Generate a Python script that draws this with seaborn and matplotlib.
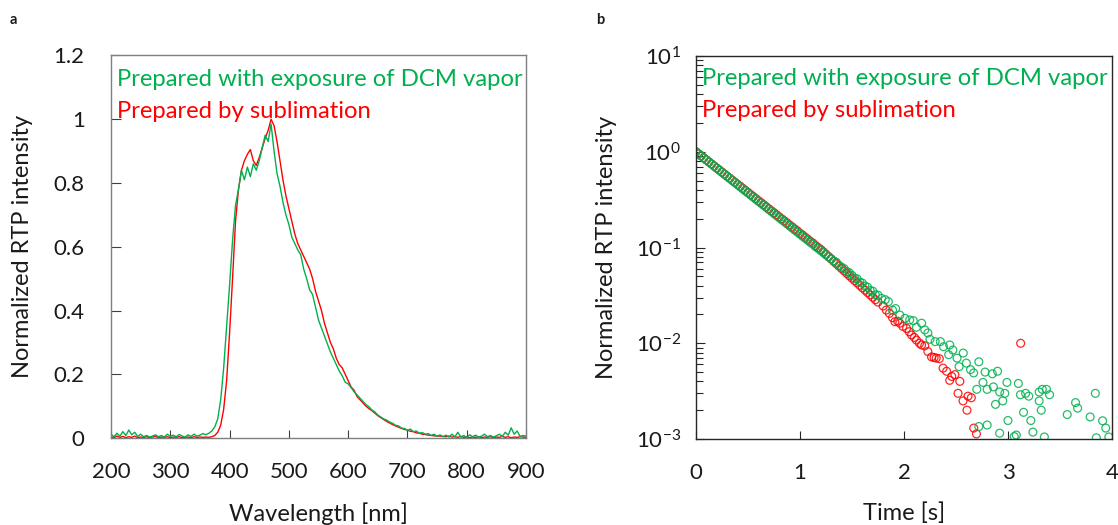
import numpy as np
import pandas as pd
import matplotlib
matplotlib.use("Agg")
import matplotlib.pyplot as plt
import seaborn as sns

# ---------------- data ----------------
wavelength = np.arange(200, 905, 5)

dcm_vapor = [
    0.012, 0.004, 0.015, 0.006, 0.020, 0.008, 0.025, 0.010, 0.018, 0.005,  # 200
    0.012, 0.004, 0.008, 0.003, 0.006, 0.010, 0.004, 0.008, 0.003, 0.012,  # 250
    0.005, 0.009, 0.004, 0.011, 0.006, 0.003, 0.010, 0.005, 0.012, 0.006,  # 300
    0.009, 0.014, 0.010, 0.015, 0.022, 0.035, 0.060, 0.120, 0.220, 0.350,  # 350
    0.480, 0.620, 0.730, 0.780, 0.840, 0.810, 0.850, 0.820, 0.860, 0.840,  # 400
    0.870, 0.910, 0.950, 0.930, 0.985, 0.900, 0.830, 0.790, 0.740, 0.700,  # 450
    0.670, 0.630, 0.610, 0.590, 0.575, 0.530, 0.500, 0.465, 0.450, 0.410,  # 500
    0.370, 0.345, 0.320, 0.295, 0.270, 0.250, 0.230, 0.210, 0.195, 0.175,  # 550
    0.170, 0.158, 0.145, 0.135, 0.125, 0.115, 0.105, 0.098, 0.088, 0.082,  # 600
    0.072, 0.066, 0.060, 0.056, 0.050, 0.046, 0.040, 0.038, 0.031, 0.030,  # 650
    0.024, 0.028, 0.020, 0.022, 0.015, 0.017, 0.012, 0.014, 0.008, 0.012,  # 700
    0.005, 0.010, 0.004, 0.009, 0.003, 0.012, 0.004, 0.018, 0.003, 0.008,  # 750
    0.002, 0.010, 0.004, 0.009, 0.003, 0.006, 0.012, 0.004, 0.008, 0.003,  # 800
    0.007, 0.012, 0.005, 0.018, 0.009, 0.032, 0.012, 0.022, 0.005, 0.008,  # 850
    0.006,                                                                 # 900
]

sublimation = [
    0.004, 0.001, 0.006, 0.002, 0.005, 0.001, 0.004, 0.002, 0.006, 0.001,  # 200
    0.003, 0.002, 0.004, 0.001, 0.003, 0.005, 0.001, 0.003, 0.002, 0.004,  # 250
    0.001, 0.003, 0.002, 0.004, 0.001, 0.002, 0.003, 0.001, 0.004, 0.002,  # 300
    0.003, 0.002, 0.003, 0.002, 0.004, 0.008, 0.018, 0.040, 0.090, 0.180,  # 350
    0.330, 0.500, 0.680, 0.780, 0.840, 0.870, 0.890, 0.905, 0.870, 0.855,  # 400
    0.880, 0.910, 0.940, 0.965, 1.000, 0.980, 0.930, 0.870, 0.810, 0.760,  # 450
    0.720, 0.680, 0.640, 0.610, 0.590, 0.570, 0.550, 0.530, 0.500, 0.460,  # 500
    0.430, 0.400, 0.360, 0.330, 0.300, 0.280, 0.250, 0.230, 0.220, 0.200,  # 550
    0.180, 0.160, 0.150, 0.130, 0.120, 0.110, 0.100, 0.092, 0.086, 0.078,  # 600
    0.070, 0.064, 0.058, 0.052, 0.047, 0.042, 0.038, 0.034, 0.030, 0.027,  # 650
    0.025, 0.021, 0.020, 0.016, 0.015, 0.012, 0.011, 0.009, 0.008, 0.007,  # 700
    0.006, 0.006, 0.005, 0.004, 0.006, 0.003, 0.004, 0.002, 0.005, 0.002,  # 750
    0.004, 0.001, 0.003, 0.002, 0.004, 0.001, 0.003, 0.002, 0.004, 0.001,  # 800
    0.003, 0.002, 0.005, 0.002, 0.004, 0.001, 0.003, 0.002, 0.004, 0.003,  # 850
    0.002,                                                                 # 900
]

decay_time_dcm = [
    0.000, 0.025, 0.050, 0.075, 0.100, 0.125, 0.150, 0.175, 0.200, 0.225,
    0.250, 0.275, 0.300, 0.325, 0.350, 0.375, 0.400, 0.425, 0.450, 0.475,
    0.500, 0.525, 0.550, 0.575, 0.600, 0.625, 0.650, 0.675, 0.700, 0.725,
    0.750, 0.775, 0.800, 0.825, 0.850, 0.875, 0.900, 0.925, 0.950, 0.975,
    1.000, 1.025, 1.050, 1.075, 1.100, 1.125, 1.150, 1.175, 1.200, 1.225,
    1.250, 1.275, 1.300, 1.325, 1.350, 1.375, 1.400, 1.425, 1.450, 1.475,
    1.500, 1.525, 1.550, 1.575, 1.600, 1.625, 1.650, 1.675, 1.700, 1.725,
    1.750,
    1.785, 1.820, 1.850, 1.890, 1.920, 1.960, 2.010, 2.055, 2.090, 2.120,
    2.170, 2.200, 2.230, 2.250, 2.300, 2.350, 2.380, 2.430, 2.440, 2.470,
    2.510, 2.530, 2.570, 2.600, 2.640, 2.670, 2.700, 2.720, 2.720, 2.760,
    2.780, 2.800, 2.800, 2.850, 2.860, 2.880, 2.900, 2.920, 2.920, 2.950,
    2.970, 2.990, 3.000, 3.060, 3.080, 3.100, 3.120, 3.150, 3.170, 3.200,
    3.220, 3.240, 3.300, 3.300, 3.320, 3.330, 3.350, 3.370, 3.400, 3.570,
    3.650, 3.670, 3.790, 3.840, 3.850, 3.910, 3.940, 3.970,
]
decay_int_dcm = [
    1.000, 0.952, 0.906, 0.862, 0.820, 0.781, 0.743, 0.707, 0.673, 0.641,
    0.610, 0.580, 0.552, 0.526, 0.500, 0.476, 0.453, 0.431, 0.410, 0.390,
    0.372, 0.354, 0.337, 0.320, 0.305, 0.290, 0.276, 0.263, 0.250, 0.238,
    0.226, 0.215, 0.205, 0.195, 0.186, 0.177, 0.168, 0.160, 0.152, 0.145,
    0.138, 0.131, 0.125, 0.119, 0.113, 0.108, 0.102, 0.0975, 0.0928, 0.0883,
    0.0840, 0.0800, 0.0761, 0.0724, 0.0700, 0.0650, 0.0624, 0.0600, 0.0560, 0.0545,
    0.0512, 0.0480, 0.0470, 0.0436, 0.0425, 0.0395, 0.0385, 0.0355, 0.0350, 0.0320,
    0.0318,
    0.0294, 0.0285, 0.0272, 0.0222, 0.0230, 0.0197, 0.0182, 0.0175, 0.0172, 0.0147,
    0.0162, 0.0138, 0.0128, 0.0110, 0.0104, 0.0104, 0.0092, 0.0076, 0.0096, 0.0085,
    0.0070, 0.0057, 0.0079, 0.0062, 0.0053, 0.0049, 0.0033, 0.0064, 0.00135, 0.0039,
    0.0050, 0.0033, 0.0014, 0.0048, 0.0035, 0.0023, 0.0051, 0.0031, 0.00115, 0.0025,
    0.0030, 0.0039, 0.00156, 0.00106, 0.0011, 0.0038, 0.0029, 0.0019, 0.0030, 0.0028,
    0.00156, 0.00118, 0.0031, 0.0025, 0.0020, 0.0033, 0.00105, 0.0033, 0.0029, 0.0018,
    0.0024, 0.0021, 0.0017, 0.0030, 0.00103, 0.00155, 0.0013, 0.00105,
]

decay_time_sub = [
    0.000, 0.025, 0.050, 0.075, 0.100, 0.125, 0.150, 0.175, 0.200, 0.225,
    0.250, 0.275, 0.300, 0.325, 0.350, 0.375, 0.400, 0.425, 0.450, 0.475,
    0.500, 0.525, 0.550, 0.575, 0.600, 0.625, 0.650, 0.675, 0.700, 0.725,
    0.750, 0.775, 0.800, 0.825, 0.850, 0.875, 0.900, 0.925, 0.950, 0.975,
    1.000, 1.025, 1.050, 1.075, 1.100, 1.125, 1.150, 1.175, 1.200, 1.225,
    1.250, 1.275, 1.300, 1.325, 1.350, 1.375, 1.400, 1.425, 1.450, 1.475,
    1.500, 1.525, 1.550, 1.575, 1.600, 1.625, 1.650, 1.675, 1.700, 1.725,
    1.750,
    1.800, 1.830, 1.860, 1.890, 1.913, 1.940, 1.960, 1.990, 2.025, 2.050,
    2.073, 2.100, 2.120, 2.150, 2.169, 2.200, 2.230, 2.265, 2.290, 2.310,
    2.340, 2.376, 2.410, 2.440, 2.460, 2.490, 2.520, 2.537, 2.568, 2.606,
    2.616, 2.648, 2.671, 2.697, 3.122,
]
decay_int_sub = [
    1.000, 0.952, 0.907, 0.864, 0.822, 0.783, 0.746, 0.710, 0.676, 0.644,
    0.613, 0.584, 0.556, 0.530, 0.504, 0.480, 0.457, 0.436, 0.415, 0.395,
    0.376, 0.358, 0.341, 0.325, 0.309, 0.295, 0.281, 0.267, 0.254, 0.242,
    0.231, 0.220, 0.209, 0.199, 0.190, 0.181, 0.172, 0.164, 0.156, 0.149,
    0.141, 0.135, 0.128, 0.122, 0.116, 0.111, 0.105, 0.100, 0.0955, 0.0902,
    0.0851, 0.0804, 0.0759, 0.0716, 0.0676, 0.0639, 0.0603, 0.0569, 0.0537, 0.0507,
    0.0479, 0.0452, 0.0427, 0.0403, 0.0380, 0.0359, 0.0339, 0.0320, 0.0302, 0.0285,
    0.0269,
    0.0245, 0.0222, 0.0205, 0.0185, 0.0168, 0.0170, 0.0162, 0.0150, 0.0143, 0.0132,
    0.0122, 0.0115, 0.0108, 0.0100, 0.0096, 0.0094, 0.0082, 0.0072, 0.0071, 0.0070,
    0.0069, 0.0055, 0.0051, 0.0041, 0.0045, 0.0047, 0.0030, 0.0040, 0.0025, 0.0020,
    0.0028, 0.0027, 0.0013, 0.00113, 0.0100,
]

series_labels = ["Prepared with exposure of DCM vapor", "Prepared by sublimation"]
wl_ticks = [200, 300, 400, 500, 600, 700, 800, 900]
int_ticks = [0, 0.2, 0.4, 0.6, 0.8, 1.0, 1.2]
int_ticklabels = ["0", "0.2", "0.4", "0.6", "0.8", "1", "1.2"]
time_ticks = [0, 1, 2, 3, 4]
log_ticks = [1e-3, 1e-2, 1e-1, 1e0, 1e1]
log_ticklabels = ["$10^{-3}$", "$10^{-2}$", "$10^{-1}$", "$10^{0}$", "$10^{1}$"]

# ---------------- style ----------------
sns.set_style("ticks")
FONT = "Lato"
plt.rcParams["font.family"] = [FONT, "DejaVu Sans"]
plt.rcParams["mathtext.fontset"] = "custom"
plt.rcParams["mathtext.rm"] = FONT
plt.rcParams["mathtext.it"] = FONT + ":italic"
plt.rcParams["mathtext.bf"] = FONT + ":bold"

GREEN = "#00B050"
RED = "#FF0000"
TXT = "#1a1a1a"
TICK_FS = 16
LAB_FS = 17
LEG_FS = 17.2

fig = plt.figure(figsize=(11.18, 5.25), dpi=100)
ax1 = fig.add_axes([0.0993, 0.1657, 0.4705 - 0.0993, 0.8943 - 0.1657])
ax2 = fig.add_axes([0.6225, 0.1638, 0.9946 - 0.6225, 0.8933 - 0.1638])

# ---- panel a ----
spec = pd.DataFrame({"wl": wavelength, "dcm": dcm_vapor, "sub": sublimation})
sns.lineplot(data=spec, x="wl", y="sub", ax=ax1, color=RED, lw=1.0)
sns.lineplot(data=spec, x="wl", y="dcm", ax=ax1, color=GREEN, lw=1.0)
ax1.set_xlim(200, 900)
ax1.set_ylim(0, 1.2)
ax1.set_xticks(wl_ticks)
ax1.set_xticklabels([str(t) for t in wl_ticks])
ax1.set_yticks(int_ticks)
ax1.set_yticklabels(int_ticklabels)
for s in ax1.spines.values():
    s.set_color("#7f7f7f")
    s.set_linewidth(1.0)
ax1.tick_params(axis="x", direction="in", length=6, width=0.8, color="#404040",
                pad=17, labelsize=TICK_FS, labelcolor=TXT)
ax1.tick_params(axis="y", direction="in", length=7, width=0.8, color="#404040",
                pad=19, labelsize=TICK_FS, labelcolor=TXT)
ax1.set_xlabel("Wavelength [nm]", fontsize=LAB_FS, color=TXT)
ax1.set_ylabel("Normalized RTP intensity", fontsize=LAB_FS, color=TXT, va="center")
ax1.xaxis.set_label_coords(0.5, -0.168)
ax1.yaxis.set_label_coords(-0.214, 0.5)
t = ax1.text(0.0145, 0.921, series_labels[0], transform=ax1.transAxes, color=GREEN,
             fontsize=LEG_FS, va="baseline", ha="left")
t.set_clip_on(True)
t = ax1.text(0.0145, 0.837, series_labels[1], transform=ax1.transAxes, color=RED,
             fontsize=LEG_FS, va="baseline", ha="left")
t.set_clip_on(True)

# ---- panel b ----
sns.scatterplot(x=decay_time_sub, y=decay_int_sub, ax=ax2, s=32, marker="o",
                facecolor="none", edgecolor=RED, linewidth=0.9, alpha=0.85)
sns.scatterplot(x=decay_time_dcm, y=decay_int_dcm, ax=ax2, s=32, marker="o",
                facecolor="none", edgecolor=GREEN, linewidth=0.9, alpha=0.85)
ax2.set_yscale("log")
ax2.set_xlim(0, 4)
ax2.set_ylim(1e-3, 1e1)
ax2.set_xticks(time_ticks)
ax2.set_xticklabels([str(t) for t in time_ticks])
ax2.set_yticks(log_ticks)
ax2.set_yticklabels(log_ticklabels)
ax2.yaxis.set_minor_locator(matplotlib.ticker.LogLocator(base=10, subs=np.arange(2, 10)))
ax2.yaxis.set_minor_formatter(matplotlib.ticker.NullFormatter())
for s in ax2.spines.values():
    s.set_color("#262626")
    s.set_linewidth(1.0)
ax2.tick_params(axis="x", which="both", direction="in", length=6, width=0.8,
                color="#262626", pad=17, labelsize=TICK_FS, labelcolor=TXT)
ax2.tick_params(axis="y", which="major", direction="in", length=6.5, width=0.8,
                color="#262626", pad=11, labelsize=TICK_FS, labelcolor=TXT)
ax2.tick_params(axis="y", which="minor", direction="in", length=5, width=0.8,
                color="#262626")
ax2.set_xlabel("Time [s]", fontsize=LAB_FS, color=TXT)
ax2.set_ylabel("Normalized RTP intensity", fontsize=LAB_FS, color=TXT, va="center")
ax2.xaxis.set_label_coords(0.5, -0.165)
ax2.yaxis.set_label_coords(-0.214, 0.5)
t = ax2.text(0.015, 0.924, series_labels[0], transform=ax2.transAxes, color=GREEN,
             fontsize=LEG_FS, va="baseline", ha="left")
t.set_clip_on(True)
t = ax2.text(0.015, 0.8415, series_labels[1], transform=ax2.transAxes, color=RED,
             fontsize=LEG_FS, va="baseline", ha="left")
t.set_clip_on(True)

fig.text(0.009, 0.962, "a", fontsize=10.5, fontweight="bold", color=TXT, va="center")
fig.text(0.533, 0.962, "b", fontsize=10.5, fontweight="bold", color=TXT, va="center")

fig.savefig("out.png", dpi=100)
